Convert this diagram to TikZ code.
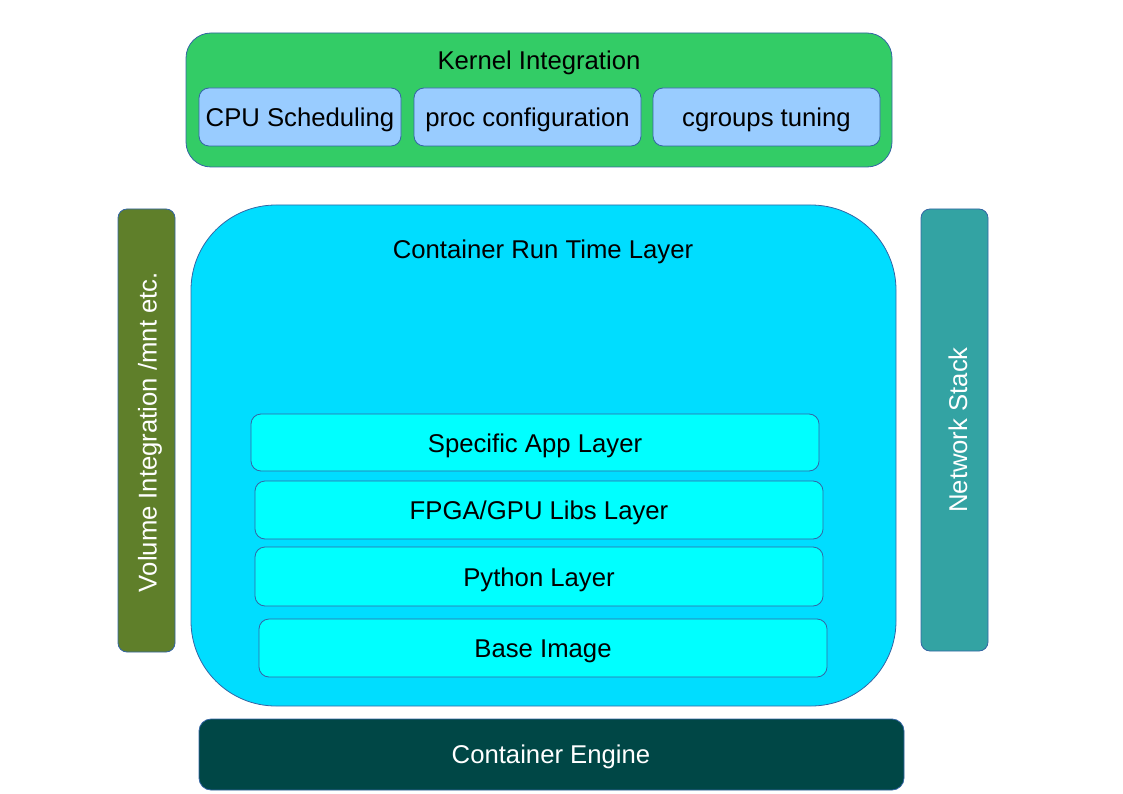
\documentclass[tikz,border=0pt]{standalone}
\usepackage{fontspec}
\setmainfont{Liberation Sans}
\definecolor{kgreen}{HTML}{33CC66}
\definecolor{kblue}{HTML}{99CCFF}
\definecolor{rtblue}{HTML}{00DDFF}
\definecolor{layercyan}{HTML}{00FFFF}
\definecolor{volgreen}{HTML}{5F7F2A}
\definecolor{netteal}{HTML}{33A3A3}
\definecolor{engteal}{HTML}{004746}
\definecolor{edge}{HTML}{3465A4}
\begin{document}
\begin{tikzpicture}[x=1pt,y=-1pt,
  box/.style={draw=edge,line width=0.8pt,inner sep=0pt,outer sep=0pt},
  lbl/.style={font=\fontsize{25.7}{30}\selectfont,inner sep=0pt},
  kbox/.style={box,fill=kblue,rounded corners=10pt},
  lay/.style={box,fill=layercyan,rounded corners=10pt}]
\useasboundingbox (0,0) rectangle (1123,794);
% Kernel Integration
\draw[box,fill=kgreen,rounded corners=25pt] (186,33) rectangle (892,167);
\node[lbl] (kt) at (539,63) {Kernel Integration};
\draw[kbox] (199,88) rectangle (401,146);
\node[lbl] (cpu) at (300,120) {CPU Scheduling};
\draw[kbox] (414,88) rectangle (641,146);
\node[lbl] (proc) at (527.5,120) {proc configuration};
\draw[kbox] (653,88) rectangle (880,146);
\node[lbl] (cg) at (766.5,120) {cgroups tuning};
% Volume
\draw[box,fill=volgreen,rounded corners=9pt] (118,209) rectangle (175,652);
\node[lbl,text=white,rotate=90] (vol) at (150,432) {Volume Integration /mnt etc.};
% Network
\draw[box,fill=netteal,rounded corners=9pt] (921,209) rectangle (988,651);
\node[lbl,text=white,rotate=90] (net) at (958,430) {Network Stack};
% Runtime
\draw[box,fill=rtblue,rounded corners=85pt] (191,205) rectangle (896,706);
\node[lbl] (rt) at (543,252) {Container Run Time Layer};
\draw[lay] (251,414) rectangle (819,471);
\node[lbl] (app) at (535,446) {Specific App Layer};
\draw[lay] (255,481) rectangle (823,539);
\node[lbl] (fpga) at (539,513) {FPGA/GPU Libs Layer};
\draw[lay] (255,547) rectangle (823,606);
\node[lbl] (py) at (539,580) {Python Layer};
\draw[lay] (259,619) rectangle (827,677);
\node[lbl] (base) at (543,651) {Base Image};
% Engine
\draw[box,fill=engteal,rounded corners=12pt] (199,719) rectangle (904,790);
\node[lbl,text=white] (eng) at (551,757) {Container Engine};
\end{tikzpicture}
\end{document}
